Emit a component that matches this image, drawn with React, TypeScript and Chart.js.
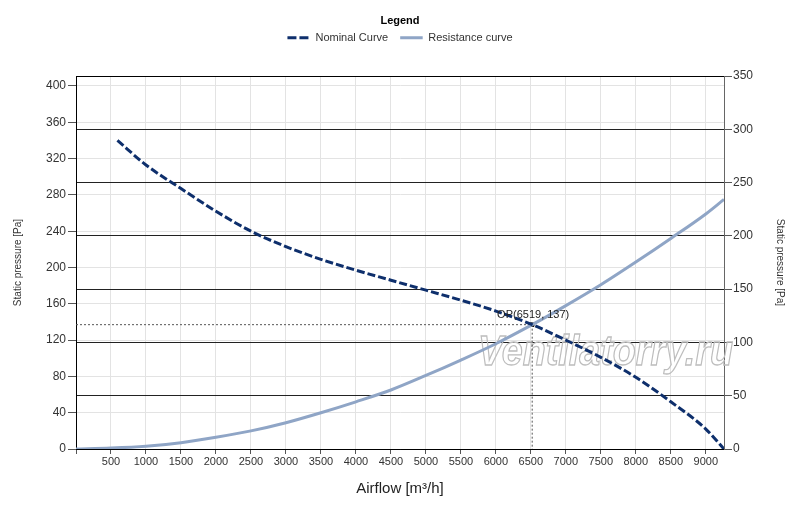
import { useEffect, useRef } from "react"
import { Chart, registerables, type ChartOptions, type Plugin } from "chart.js"

Chart.register(...registerables)

// Fan curve (airflow m³/h -> static pressure Pa)
const nominalFlow = [592, 1000, 1500, 2000, 2500, 3000, 3500, 4000, 4500, 5000, 5500, 6000, 6519, 7000, 7500, 8000, 8500, 9000, 9260]
const nominalPressure = [340, 313, 287, 262, 240, 223, 209, 197, 186, 175, 164, 152, 137, 120, 101, 79, 52, 22, 0]

// System resistance curve
const resistanceFlow = [0, 500, 1000, 1500, 2000, 2500, 3000, 3500, 4000, 4500, 5000, 5500, 6000, 6519, 7000, 7500, 8000, 8500, 9000, 9260]
const resistancePressure = [0, 1, 3, 7, 13, 20, 29, 40, 52, 65, 81, 98, 116, 137, 158, 181, 206, 232, 259, 275]

// Operating point
const opFlow = 6519
const opPressure = 137

// Airflow axis ticks
const flowTicks = [0, 500, 1000, 1500, 2000, 2500, 3000, 3500, 4000, 4500, 5000, 5500, 6000, 6500, 7000, 7500, 8000, 8500, 9000]

const seriesLabels = ["Nominal Curve", "Resistance curve"]
const watermark = "Ventilatorry.ru"

const FONT = "'Liberation Sans', Arial, sans-serif"

const toPoints = (xs: number[], ys: number[]) => xs.map((x, i) => ({ x, y: ys[i] }))

const extrasPlugin: Plugin<"line"> = {
  id: "extras",
  beforeInit(chart) {
    const legend = chart.legend as any
    if (legend) {
      const fit = legend.fit.bind(legend)
      legend.fit = function () {
        fit()
        this.height = 76
      }
    }
  },
  beforeDatasetsDraw(chart) {
    const { ctx } = chart
    ctx.save()
    ctx.font = `italic bold 42px ${FONT}`
    const w = ctx.measureText(watermark).width
    ctx.translate(478, 365)
    ctx.scale(255 / w, 1)
    ctx.strokeStyle = "#bdbdbd"
    ctx.lineWidth = 1.3
    ctx.textBaseline = "alphabetic"
    ctx.strokeText(watermark, 0, 0)
    ctx.restore()
  },
  afterDraw(chart) {
    const { ctx, chartArea, scales } = chart
    ctx.save()
    ctx.strokeStyle = "#000"
    ctx.lineWidth = 1
    ctx.beginPath()
    ctx.moveTo(chartArea.left, chartArea.top + 0.5)
    ctx.lineTo(chartArea.right, chartArea.top + 0.5)
    ctx.stroke()

    const px = scales.x.getPixelForValue(opFlow)
    const py = scales.y.getPixelForValue(opPressure)
    ctx.font = `11px ${FONT}`
    ctx.fillStyle = "#222"
    ctx.textAlign = "center"
    ctx.textBaseline = "bottom"
    ctx.fillText(`OP(${opFlow}, ${opPressure})`, px + 1, py - 4)
    ctx.restore()
  },
}

export default function App() {
  const canvasRef = useRef<HTMLCanvasElement>(null)
  const chartRef = useRef<Chart | null>(null)

  useEffect(() => {
    if (!canvasRef.current) return
    const ctx = canvasRef.current.getContext("2d")
    if (!ctx) return

    if (chartRef.current) chartRef.current.destroy()

    Chart.defaults.font.family = FONT

    const options: ChartOptions<"line"> = {
      responsive: true,
      maintainAspectRatio: false,
      animation: false,
      layout: { padding: 0 },
      scales: {
        x: {
          type: "linear",
          min: 0,
          max: 9260,
          afterFit: (s) => {
            s.height = 58
          },
          afterBuildTicks: (s) => {
            s.ticks = flowTicks.map((value) => ({ value }))
          },
          ticks: {
            autoSkip: false,
            padding: 1,
            color: "#333",
            font: { size: 11 },
            maxRotation: 0,
            callback: (v) => (v === 0 ? "" : String(v)),
          },
          grid: { color: "#e3e3e3", tickColor: "#555", tickLength: 5 },
          border: { color: "#000" },
          title: {
            display: true,
            text: "Airflow [m³/h]",
            color: "#222",
            font: { size: 15 },
            padding: { top: 0, bottom: 9 },
          },
        },
        y: {
          type: "linear",
          position: "left",
          min: 0,
          max: 411,
          afterFit: (s) => {
            s.width = 76
          },
          ticks: {
            stepSize: 40,
            maxTicksLimit: 30,
            includeBounds: false,
            padding: 2,
            color: "#333",
            font: { size: 12 },
          },
          grid: { color: "#e3e3e3", tickColor: "#555", tickLength: 8 },
          border: { color: "#000" },
          title: {
            display: true,
            text: "Static pressure [Pa]",
            color: "#333",
            font: { size: 10 },
            padding: { top: 12, bottom: 0 },
          },
        },
        y2: {
          type: "linear",
          position: "right",
          min: 0,
          max: 350,
          afterFit: (s) => {
            s.width = 76
          },
          ticks: {
            stepSize: 50,
            padding: 1,
            color: "#333",
            font: { size: 12 },
          },
          grid: { color: "#222", tickColor: "#555", tickLength: 8 },
          border: { color: "#666" },
          title: {
            display: true,
            text: "Static pressure [Pa]",
            color: "#333",
            font: { size: 10 },
            padding: { top: 14, bottom: 0 },
          },
        },
      },
      plugins: {
        legend: {
          position: "top",
          title: {
            display: true,
            text: "Legend",
            color: "#000",
            font: { size: 11, weight: "bold" },
            padding: { top: 15, bottom: -8 },
          },
          labels: {
            boxWidth: 22.5,
            boxHeight: 0,
            padding: 12,
            color: "#333",
            font: { size: 11 },
            generateLabels: (chart) =>
              Chart.defaults.plugins.legend.labels
                .generateLabels(chart)
                .filter((item) => (item.datasetIndex ?? 0) < 2)
                .map((item) => ({
                  ...item,
                  lineDash: item.datasetIndex === 0 ? [9, 3] : [],
                  lineWidth: 3,
                })),
          },
        },
        tooltip: { enabled: false },
      },
    }

    chartRef.current = new Chart(ctx, {
      type: "line",
      data: {
        datasets: [
          {
            label: seriesLabels[0],
            data: toPoints(nominalFlow, nominalPressure),
            borderColor: "#0e2f6c",
            backgroundColor: "#0e2f6c",
            borderWidth: 3,
            borderDash: [8, 3],
            pointRadius: 0,
            cubicInterpolationMode: "monotone",
            yAxisID: "y",
          },
          {
            label: seriesLabels[1],
            data: toPoints(resistanceFlow, resistancePressure),
            borderColor: "#8fa5c6",
            backgroundColor: "#8fa5c6",
            borderWidth: 3,
            pointRadius: 0,
            cubicInterpolationMode: "monotone",
            yAxisID: "y",
          },
          {
            label: "op-h",
            data: [
              { x: 0, y: opPressure },
              { x: opFlow, y: opPressure },
            ],
            borderColor: "#555",
            borderWidth: 1,
            borderDash: [2, 2],
            pointRadius: 0,
            yAxisID: "y",
          },
          {
            label: "op-v",
            data: [
              { x: opFlow, y: opPressure },
              { x: opFlow, y: 0 },
            ],
            borderColor: "#555",
            borderWidth: 1,
            borderDash: [2, 2],
            pointRadius: 0,
            yAxisID: "y",
          },
          {
            label: "op",
            data: [{ x: opFlow, y: opPressure }],
            showLine: false,
            pointStyle: "rect",
            pointRadius: 2.5,
            borderColor: "#000",
            backgroundColor: "#000",
            yAxisID: "y",
          },
        ],
      },
      options,
      plugins: [extrasPlugin],
    })

    return () => {
      if (chartRef.current) {
        chartRef.current.destroy()
        chartRef.current = null
      }
    }
  }, [])

  return (
    <div style={{ position: "absolute", left: 0, top: 0, width: 800, height: 507, background: "#fff" }}>
      <canvas ref={canvasRef} />
    </div>
  )
}
